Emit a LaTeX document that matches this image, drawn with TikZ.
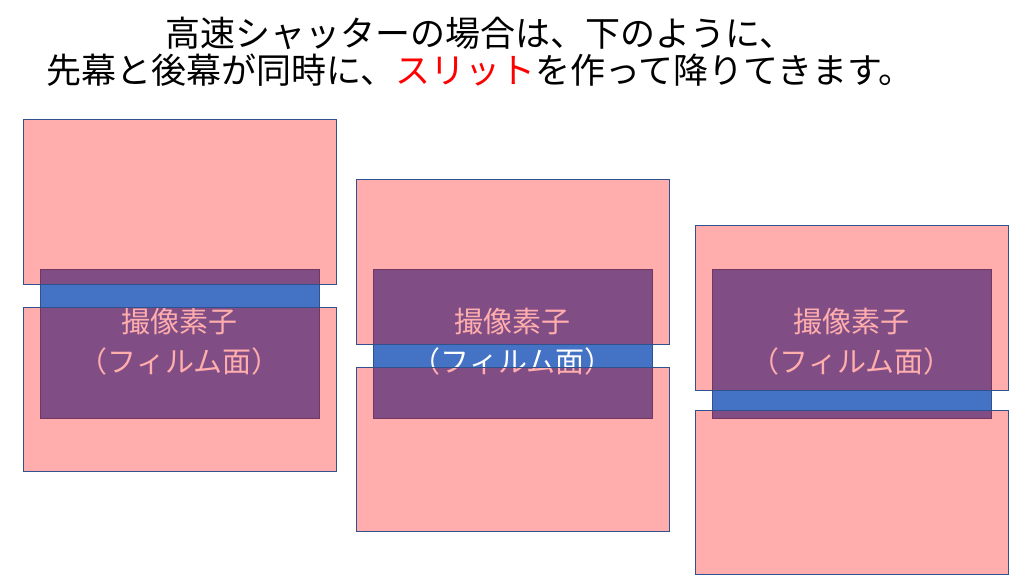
\documentclass[tikz,border=0pt]{standalone}
\usepackage{fontspec}
\setmainfont{Noto Sans CJK JP}
\begin{document}
\begin{tikzpicture}[x=1pt,y=-1pt,
  sensor/.style={fill={rgb,255:red,68;green,114;blue,196},draw={rgb,255:red,47;green,82;blue,143},line width=0.8pt},
  curtain/.style={fill=red,fill opacity=0.32,draw={rgb,255:red,47;green,82;blue,143},draw opacity=1,line width=0.8pt},
  lbl/.style={text=white,font=\fontsize{29}{40}\selectfont,align=center}]
\useasboundingbox (0,0) rectangle (1024,578);
\node[font=\fontsize{35}{40}\selectfont] (t1) at (480,33) {高速シャッターの場合は、下のように、};
\node[font=\fontsize{35}{40}\selectfont] (t2) at (480,70) {先幕と後幕が同時に、\textcolor{red}{スリット}を作って降りてきます。};
\foreach \i/\bx/\ty/\by in {1/40/119/307, 2/373/179/367, 3/712/225/410}{
  \draw[sensor] (\bx,269) rectangle (\bx+279,418);
  \node[lbl] (s\i) at (\bx+139.5,342) {撮像素子\\（フィルム面）};
  \draw[curtain] (\bx-17,\ty) rectangle (\bx+296,\ty+165);
  \draw[curtain] (\bx-17,\by) rectangle (\bx+296,\by+164);
}
\end{tikzpicture}
\end{document}
